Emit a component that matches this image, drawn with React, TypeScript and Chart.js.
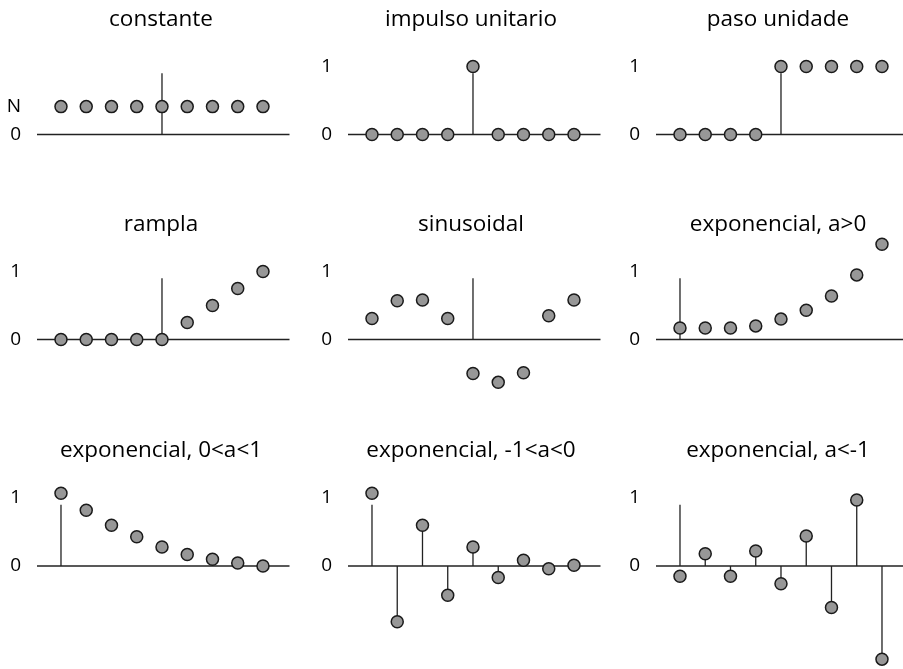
import React, { useEffect, useRef } from "react";
import { Chart, registerables } from "chart.js";

Chart.register(...registerables);

// ---------- data ----------
const nCentered = [-4, -3, -2, -1, 0, 1, 2, 3, 4];
const nCausal = [0, 1, 2, 3, 4, 5, 6, 7, 8];

const titles = [
  "constante",
  "impulso unitario",
  "paso unidade",
  "rampla",
  "sinusoidal",
  "exponencial, a>0",
  "exponencial, 0<a<1",
  "exponencial, -1<a<0",
  "exponencial, a<-1",
];

const constante = [0.41, 0.41, 0.41, 0.41, 0.41, 0.41, 0.41, 0.41, 0.41];
const impulso = [0, 0, 0, 0, 1, 0, 0, 0, 0];
const paso = [0, 0, 0, 0, 1, 1, 1, 1, 1];
const rampla = [0, 0, 0, 0, 0, 0.25, 0.5, 0.75, 1];
const sinusoidal = [0.31, 0.57, 0.58, 0.31, -0.5, -0.63, -0.49, 0.35, 0.58];
const expCreciente = [0.17, 0.17, 0.17, 0.2, 0.3, 0.43, 0.64, 0.95, 1.4];
const expDecreciente = [1.07, 0.82, 0.6, 0.43, 0.28, 0.17, 0.1, 0.045, 0.0];
const expAlternaDec = [1.07, -0.82, 0.6, -0.43, 0.28, -0.17, 0.085, -0.04, 0.01];
const expAlternaCrec = [-0.15, 0.18, -0.15, 0.22, -0.26, 0.44, -0.61, 0.97, -1.37];

const tickValuesConst = [0, 0.41];
const tickLabelsConst = ["0", "N"];
const tickValuesStd = [0, 1];
const tickLabelsStd = ["0", "1"];
const axisTop = 0.9;

// ---------- layout / style ----------
const COL_LEFT = [0, 311, 619];
const COL_W = [322, 320, 318];
const ROW_TOP = [0, 205, 431];
const ROW_H = [205, 226, 238];
const ZERO_REL = [134.5, 134.5, 135];
const PX_Y = 68;
const PX_X = 25.25;
const AXIS_W = 37;
const TITLE_SIZE = 22.5;
const TITLE_PAD_TOP = 6.5;
const TITLE_PAD_BOTTOM = 10;
const AREA_TOP = TITLE_PAD_TOP + TITLE_SIZE * 1.2 + TITLE_PAD_BOTTOM;
const FONT = "'Open Sans', 'DejaVu Sans', sans-serif";
const LINE_COLOR = "#222222";
const POINT_FILL = "#979797";
const POINT_BORDER = "#1a1a1a";

type PanelDef = {
  title: string;
  n: number[];
  values: number[];
  ticks: number[];
  labels: string[];
  stems: boolean;
};

const panels: PanelDef[] = [
  { title: titles[0], n: nCentered, values: constante, ticks: tickValuesConst, labels: tickLabelsConst, stems: false },
  { title: titles[1], n: nCentered, values: impulso, ticks: tickValuesStd, labels: tickLabelsStd, stems: false },
  { title: titles[2], n: nCentered, values: paso, ticks: tickValuesStd, labels: tickLabelsStd, stems: false },
  { title: titles[3], n: nCentered, values: rampla, ticks: tickValuesStd, labels: tickLabelsStd, stems: false },
  { title: titles[4], n: nCentered, values: sinusoidal, ticks: tickValuesStd, labels: tickLabelsStd, stems: false },
  { title: titles[5], n: nCausal, values: expCreciente, ticks: tickValuesStd, labels: tickLabelsStd, stems: false },
  { title: titles[6], n: nCausal, values: expDecreciente, ticks: tickValuesStd, labels: tickLabelsStd, stems: false },
  { title: titles[7], n: nCausal, values: expAlternaDec, ticks: tickValuesStd, labels: tickLabelsStd, stems: true },
  { title: titles[8], n: nCausal, values: expAlternaCrec, ticks: tickValuesStd, labels: tickLabelsStd, stems: true },
];

function lineDataset(points: { x: number; y: number }[]) {
  return {
    type: "line" as const,
    data: points,
    borderColor: LINE_COLOR,
    borderWidth: 1.3,
    pointRadius: 0,
    pointHoverRadius: 0,
    showLine: true,
    fill: false,
    clip: false as const,
    tension: 0,
  };
}

function StemPanel({ def, index }: { def: PanelDef; index: number }) {
  const ref = useRef<HTMLCanvasElement | null>(null);
  const col = index % 3;
  const row = Math.floor(index / 3);
  const w = COL_W[col];
  const h = ROW_H[row];

  useEffect(() => {
    if (!ref.current) return;
    const zero = ZERO_REL[row];
    const yMax = (zero - AREA_TOP) / PX_Y;
    const yMin = -(h - zero) / PX_Y;
    const xMin = def.n[0] - 0.95;
    const xMax = xMin + (w - AXIS_W) / PX_X;
    const lineStart = def.n[0] - 0.95;
    const lineEnd = def.n[def.n.length - 1] + 1.05;

    const datasets: any[] = [];
    datasets.push({
      type: "scatter",
      data: def.n.map((x, i) => ({ x, y: def.values[i] })),
      pointRadius: 6,
      pointHoverRadius: 6,
      pointBackgroundColor: POINT_FILL,
      pointBorderColor: POINT_BORDER,
      pointBorderWidth: 1.5,
      showLine: false,
      clip: false,
    });
    if (def.stems) {
      def.n.forEach((x, i) => {
        if (x !== 0) {
          datasets.push(lineDataset([{ x, y: 0 }, { x, y: def.values[i] }]));
        }
      });
    }
    datasets.push(lineDataset([{ x: 0, y: 0 }, { x: 0, y: axisTop }]));
    datasets.push(lineDataset([{ x: lineStart, y: 0 }, { x: lineEnd, y: 0 }]));

    const chart = new Chart(ref.current, {
      type: "scatter",
      data: { datasets },
      options: {
        animation: false,
        responsive: false,
        devicePixelRatio: 1,
        layout: { padding: 0, autoPadding: false },
        events: [],
        plugins: {
          legend: { display: false },
          tooltip: { enabled: false },
          title: {
            display: true,
            text: def.title,
            color: "#000",
            font: { family: FONT, size: TITLE_SIZE, weight: "normal", lineHeight: 1.2 },
            padding: { top: TITLE_PAD_TOP, bottom: TITLE_PAD_BOTTOM },
          },
        },
        scales: {
          x: { type: "linear", min: xMin, max: xMax, display: false },
          y: {
            type: "linear",
            min: yMin,
            max: yMax,
            grid: { display: false, drawTicks: false },
            border: { display: false },
            ticks: {
              padding: 16,
              color: "#000",
              font: { family: FONT, size: 19 },
              callback: (v: any) => {
                const k = def.ticks.findIndex((t) => Math.abs(t - Number(v)) < 1e-9);
                return k >= 0 ? def.labels[k] : "";
              },
            },
            afterBuildTicks: (s: any) => {
              s.ticks = def.ticks.map((v) => ({ value: v }));
            },
            afterFit: (s: any) => {
              s.width = AXIS_W;
              s.paddingTop = 0;
              s.paddingBottom = 0;
              s.paddingLeft = 0;
              s.paddingRight = 0;
            },
          },
        },
      } as any,
    });
    return () => chart.destroy();
  }, [def, index]);

  return (
    <canvas
      ref={ref}
      width={w}
      height={h}
      style={{ position: "absolute", left: COL_LEFT[col], top: ROW_TOP[row], width: w, height: h }}
    />
  );
}

export default function App() {
  return (
    <div
      style={{
        position: "fixed",
        left: 0,
        top: 0,
        width: 903,
        height: 669,
        overflow: "hidden",
        background: "#ffffff",
      }}
    >
      {panels.map((p, i) => (
        <StemPanel key={i} def={p} index={i} />
      ))}
    </div>
  );
}
